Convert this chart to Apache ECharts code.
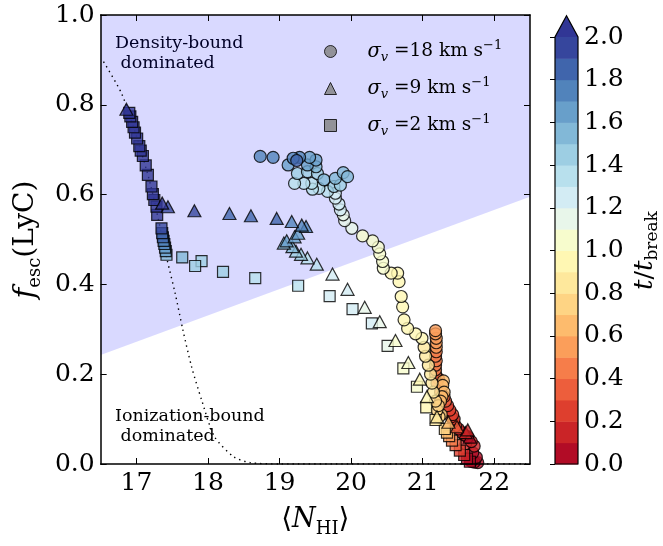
<!DOCTYPE html>
<html>
<head>
<meta charset="utf-8">
<script src="https://cdn.jsdelivr.net/npm/echarts@6/dist/echarts.min.js"></script>
<style>
  html, body { margin: 0; padding: 0; background: #fff; }
  #chart { width: 663px; height: 546px; }
</style>
</head>
<body>
<div id="chart"></div>
<script>
// sigma_v = 18 km/s (circles): <N_HI>, f_esc, t/t_break
const circN = [21.77, 21.72, 21.68, 21.75, 21.70, 21.72, 21.60, 21.68, 21.63, 21.58, 21.55, 21.50,
  21.46, 21.43, 21.44, 21.40, 21.42, 21.38, 21.35, 21.32, 21.30, 21.25, 21.22, 21.20, 21.18,
  21.18, 21.18, 21.19, 21.18, 21.19, 21.19, 21.19, 21.19, 21.18, 21.18,
  21.29, 21.28, 21.30, 21.27, 21.25, 21.26, 21.23, 21.20, 21.22, 21.18,
  21.15, 21.13, 21.11, 21.08, 21.04, 21.02, 20.99, 20.90, 20.79, 20.74, 20.72, 20.70, 20.67, 20.65, 20.56,
  20.45, 20.44, 20.40, 20.38, 20.30, 20.16, 20.01, 19.91, 19.89,
  19.85, 19.83, 19.78, 19.78, 19.67, 19.55, 19.46, 19.45, 19.34, 19.21,
  19.25, 19.39, 19.53, 19.76, 19.85, 19.62, 19.78, 19.89, 19.95, 19.51,
  19.12, 19.39, 19.51, 19.42, 19.28, 19.19, 18.91, 18.73, 19.24];
const circF = [0.003, 0.004, 0.006, 0.015, 0.025, 0.040, 0.045, 0.050, 0.060, 0.065, 0.070, 0.078,
  0.085, 0.095, 0.100, 0.105, 0.110, 0.120, 0.130, 0.140, 0.150, 0.160, 0.190, 0.180, 0.200,
  0.210, 0.220, 0.230, 0.240, 0.250, 0.260, 0.270, 0.280, 0.290, 0.297,
  0.185, 0.175, 0.160, 0.150, 0.140, 0.110, 0.105, 0.120, 0.130, 0.140,
  0.160, 0.180, 0.200, 0.220, 0.240, 0.260, 0.280, 0.290, 0.302, 0.321, 0.350, 0.373, 0.406, 0.425, 0.425,
  0.436, 0.451, 0.468, 0.483, 0.497, 0.508, 0.525, 0.542, 0.555,
  0.566, 0.579, 0.592, 0.603, 0.607, 0.614, 0.612, 0.625, 0.625, 0.625,
  0.647, 0.651, 0.647, 0.618, 0.621, 0.633, 0.636, 0.649, 0.640, 0.662,
  0.666, 0.666, 0.677, 0.683, 0.683, 0.681, 0.683, 0.685, 0.676];
const circT = [0.03, 0.05, 0.07, 0.08, 0.09, 0.11, 0.12, 0.13, 0.15, 0.17, 0.18, 0.19,
  0.21, 0.23, 0.24, 0.25, 0.27, 0.28, 0.29, 0.31, 0.33, 0.35, 0.37, 0.38, 0.39,
  0.42, 0.44, 0.46, 0.48, 0.49, 0.52, 0.54, 0.56, 0.58, 0.59,
  0.62, 0.64, 0.66, 0.68, 0.69, 0.72, 0.74, 0.76, 0.78, 0.79,
  0.81, 0.83, 0.85, 0.86, 0.88, 0.89, 0.91, 0.92, 0.93, 0.94, 0.95, 0.96, 0.97, 0.98, 0.99,
  1.02, 1.04, 1.06, 1.07, 1.08, 1.09, 1.12, 1.15, 1.18,
  1.22, 1.25, 1.27, 1.29, 1.31, 1.33, 1.35, 1.36, 1.38, 1.39,
  1.42, 1.44, 1.46, 1.48, 1.49, 1.52, 1.54, 1.56, 1.58, 1.59,
  1.62, 1.64, 1.66, 1.68, 1.72, 1.74, 1.76, 1.78, 1.85];

// sigma_v = 2 km/s (squares)
const sqN = [21.66, 21.62, 21.58, 21.52, 21.46, 21.41, 21.37, 21.34, 21.31, 21.18, 21.05,
  20.92, 20.73, 20.51, 20.29, 20.02, 19.70, 19.26, 18.66, 18.21, 17.91, 17.82,
  17.64, 17.42, 17.41, 17.40, 17.39, 17.38, 17.37, 17.36, 17.35,
  17.29, 17.28, 17.25, 17.23, 17.21, 17.16, 17.13, 17.09, 17.06, 17.04, 17.01,
  16.98, 16.96, 16.94, 16.915, 16.90];
const sqF = [0.005, 0.012, 0.020, 0.030, 0.042, 0.052, 0.062, 0.070, 0.078, 0.098, 0.126,
  0.172, 0.213, 0.263, 0.313, 0.345, 0.374, 0.397, 0.414, 0.428, 0.452, 0.441,
  0.460, 0.466, 0.474, 0.482, 0.490, 0.497, 0.505, 0.514, 0.525,
  0.555, 0.573, 0.588, 0.601, 0.618, 0.644, 0.665, 0.686, 0.698, 0.708, 0.725,
  0.738, 0.750, 0.762, 0.774, 0.782];
const sqT = [0.03, 0.08, 0.15, 0.25, 0.35, 0.45, 0.55, 0.65, 0.75, 0.85, 0.95,
  1.03, 1.08, 1.15, 1.22, 1.26, 1.29, 1.33, 1.37, 1.42, 1.46, 1.48,
  1.55, 1.58, 1.63, 1.67, 1.72, 1.77, 1.83, 1.88, 1.95,
  2.05, 2.10, 2.15, 2.20, 2.25, 2.30, 2.35, 2.40, 2.45, 2.50, 2.55,
  2.60, 2.65, 2.70, 2.75, 2.80];

// sigma_v = 9 km/s (triangles)
const triN = [21.66, 21.60, 21.63, 21.48, 21.36, 21.20, 21.06, 20.96, 20.80, 20.62, 20.40, 20.19,
  19.95, 19.74, 19.52, 19.39, 19.30, 19.23, 19.18, 19.06, 19.10, 19.21, 19.26,
  19.37, 19.31, 19.17, 18.96, 18.60, 18.30, 17.81, 17.44, 17.36, 16.86];
const triF = [0.060, 0.070, 0.076, 0.083, 0.093, 0.105, 0.150, 0.189, 0.226, 0.275, 0.317, 0.349,
  0.389, 0.423, 0.445, 0.459, 0.467, 0.474, 0.484, 0.492, 0.497, 0.506, 0.514,
  0.529, 0.532, 0.540, 0.547, 0.553, 0.558, 0.564, 0.573, 0.581, 0.790];
const triT = [0.05, 0.12, 0.18, 0.35, 0.60, 0.85, 0.95, 0.98, 1.03, 1.07, 1.13, 1.18,
  1.23, 1.27, 1.33, 1.37, 1.43, 1.47, 1.53, 1.57, 1.62, 1.65, 1.68,
  1.72, 1.75, 1.78, 1.82, 1.85, 1.88, 1.93, 1.97, 2.05, 2.30];

// dotted curve
const dotN = [16.54, 16.79, 17.0, 17.2, 17.43, 17.54, 17.65, 17.77, 17.91, 18.09, 18.36, 18.59, 19.0, 20.0, 21.0, 22.5];
const dotF = [0.896, 0.826, 0.73, 0.62, 0.454, 0.381, 0.298, 0.217, 0.143, 0.061, 0.016, 0.003, 0, 0, 0, 0];

// density-bound / ionization-bound divide
const shadeN = [16.5, 22.5];
const shadeF = [0.243, 0.595];

// ticks
const xTicks = [17, 18, 19, 20, 21, 22];
const cbBounds = [0, 0.1, 0.2, 0.3, 0.4, 0.5, 0.6, 0.7, 0.8, 0.9, 1.0, 1.1, 1.2, 1.3, 1.4, 1.5, 1.6, 1.7, 1.8, 1.9, 2.0];
const cbTip = 2.1;

// RdYlBu in 20 steps, plus the over colour
const BAND = ['#b20c26', '#ca2427', '#de3f2e', '#ed5e3c', '#f67d4a', '#fb9e5a', '#fdbb6d', '#fed484', '#fee89c', '#fff7b3',
  '#f7fccd', '#e8f6ea', '#d3ecf4', '#b8e0ed', '#9dcee3', '#82b8d7', '#689fca', '#5183bb', '#4065ac', '#36469d'];
const OVER = '#313695';
const FONT = 'DejaVu Serif';

function tColor(t) {
  return t >= 2 ? OVER : BAND[Math.min(19, Math.floor(t * 10 + 1e-9))];
}
function zip3(a, b, c) {
  return a.map((v, i) => [v, b[i], c[i]]);
}

const cbData = cbBounds.slice(0, -1).map((lo, i) => [lo, cbBounds[i + 1]]);
cbData.push([cbBounds[cbBounds.length - 1], cbTip]);

const markerStyle = {
  color: p => tColor(p.value[2]),
  borderColor: '#000',
  borderWidth: 1.2
};
const legendLabels = { s18: '18', s9: '9', s2: '2' };
const tickFont = { fontFamily: FONT, fontSize: 25, color: '#000' };

const chart = echarts.init(document.getElementById('chart'));

const option = {
  animation: false,
  grid: [
    { left: 92, right: 133, top: 15, bottom: 82 },
    { left: 555, width: 23, top: 37, bottom: 82 }
  ],
  legend: {
    orient: 'vertical',
    left: 319,
    top: 34,
    itemWidth: 12,
    itemHeight: 12,
    itemGap: 12,
    data: [
      { name: 's18', icon: 'circle', itemStyle: { color: '#808080', borderColor: '#000', borderWidth: 1 } },
      { name: 's9', icon: 'triangle', itemStyle: { color: '#808080', borderColor: '#000', borderWidth: 1 } },
      { name: 's2', icon: 'rect', itemStyle: { color: '#808080', borderColor: '#000', borderWidth: 1 } }
    ],
    formatter: name => `{g|}{i|σ}{sub|v} =${legendLabels[name]} km s{sup|−1}`,
    textStyle: {
      fontFamily: FONT, fontSize: 18.5, color: '#000', lineHeight: 25,
      rich: {
        g: { width: 26 },
        i: { fontFamily: FONT, fontSize: 19.5, fontStyle: 'italic' },
        sub: { fontFamily: FONT, fontSize: 13, fontStyle: 'italic', verticalAlign: 'bottom', lineHeight: 12 },
        sup: { fontFamily: FONT, fontSize: 13, verticalAlign: 'top', lineHeight: 12 }
      }
    }
  },
  graphic: [
    { type: 'text', left: 115, top: 33, style: { text: 'Density-bound\n dominated', font: `17.5px "${FONT}"`, lineHeight: 20, fill: '#000' } },
    { type: 'text', left: 115, top: 406, style: { text: 'Ionization-bound\n dominated', font: `17.5px "${FONT}"`, lineHeight: 20, fill: '#000' } }
  ],
  xAxis: [
    {
      type: 'value', gridIndex: 0, min: 16.5, max: 22.5, z: 10,
      axisLine: { onZero: false, lineStyle: { color: '#000', width: 1.5 } },
      axisTick: { inside: true, length: 6, customValues: xTicks, lineStyle: { color: '#000' } },
      axisLabel: { customValues: xTicks, margin: 7, ...tickFont },
      splitLine: { show: false },
      name: '{b|⟨}{i|N}{s|HI}{b|⟩}',
      nameLocation: 'middle',
      nameGap: 38,
      nameTextStyle: {
        fontFamily: FONT, fontSize: 27, color: '#000', lineHeight: 36,
        rich: {
          b: { fontFamily: FONT, fontSize: 28 },
          i: { fontFamily: FONT, fontSize: 27, fontStyle: 'italic' },
          s: { fontFamily: FONT, fontSize: 18, verticalAlign: 'bottom', lineHeight: 18 }
        }
      }
    },
    {
      type: 'value', gridIndex: 0, position: 'top', min: 16.5, max: 22.5, z: 10,
      axisLine: { onZero: false, lineStyle: { color: '#000', width: 1.5 } },
      axisTick: { inside: true, length: 6, customValues: xTicks, lineStyle: { color: '#000' } },
      axisLabel: { show: false },
      splitLine: { show: false }
    },
    { type: 'value', gridIndex: 1, min: 0, max: 1, show: false }
  ],
  yAxis: [
    {
      type: 'value', gridIndex: 0, min: 0, max: 1, interval: 0.2, z: 10,
      axisLine: { onZero: false, lineStyle: { color: '#000', width: 1.5 } },
      axisTick: { inside: true, length: 6, lineStyle: { color: '#000' } },
      axisLabel: { margin: 6, formatter: v => v.toFixed(1), ...tickFont },
      splitLine: { show: false },
      name: '{i|f}{s|esc}(LyC)',
      nameLocation: 'middle',
      nameRotate: 90,
      nameGap: 54,
      nameTextStyle: {
        fontFamily: FONT, fontSize: 28, color: '#000', lineHeight: 36,
        rich: {
          i: { fontFamily: FONT, fontSize: 29, fontStyle: 'italic' },
          s: { fontFamily: FONT, fontSize: 18, verticalAlign: 'bottom', lineHeight: 18 }
        }
      }
    },
    {
      type: 'value', gridIndex: 0, position: 'right', min: 0, max: 1, interval: 0.2, z: 10,
      axisLine: { onZero: false, lineStyle: { color: '#000', width: 1.5 } },
      axisTick: { inside: true, length: 6, lineStyle: { color: '#000' } },
      axisLabel: { show: false },
      splitLine: { show: false }
    },
    {
      type: 'value', gridIndex: 1, position: 'right', min: 0, max: 2, interval: 0.2, z: 10,
      axisLine: { show: false },
      axisTick: { inside: true, length: 5, lineStyle: { color: '#000' } },
      axisLabel: { margin: 6, formatter: v => v.toFixed(1), ...tickFont },
      splitLine: { show: false },
      name: '{i|t}/{i|t}{s|break}',
      nameLocation: 'middle',
      nameRotate: 90,
      nameGap: 51,
      nameTextStyle: {
        fontFamily: FONT, fontSize: 25, color: '#000', lineHeight: 32,
        rich: {
          i: { fontFamily: FONT, fontSize: 26, fontStyle: 'italic' },
          s: { fontFamily: FONT, fontSize: 17, verticalAlign: 'bottom', lineHeight: 16 }
        }
      }
    }
  ],
  series: [
    {
      name: 'shade', type: 'line', xAxisIndex: 0, yAxisIndex: 0, silent: true, z: 0,
      data: shadeN.map((n, i) => [n, shadeF[i]]),
      symbol: 'none',
      lineStyle: { width: 0 },
      areaStyle: { origin: 'end', color: 'rgba(0,0,255,0.15)', opacity: 1 }
    },
    {
      name: 'dotted', type: 'line', xAxisIndex: 0, yAxisIndex: 0, silent: true, z: 1,
      data: dotN.map((n, i) => [n, dotF[i]]),
      symbol: 'none', smooth: 0.25,
      lineStyle: { color: '#000', width: 1.4, type: [1.4, 4] }
    },
    {
      name: 's18', type: 'scatter', xAxisIndex: 0, yAxisIndex: 0, symbol: 'circle', symbolSize: 12,
      data: zip3(circN, circF, circT), itemStyle: markerStyle
    },
    {
      name: 's2', type: 'scatter', xAxisIndex: 0, yAxisIndex: 0, symbol: 'rect', symbolSize: 11,
      data: zip3(sqN, sqF, sqT), itemStyle: markerStyle
    },
    {
      name: 's9', type: 'scatter', xAxisIndex: 0, yAxisIndex: 0, symbol: 'triangle', symbolSize: [13, 12],
      data: zip3(triN, triF, triT), itemStyle: markerStyle
    },
    {
      name: 'colorbar', type: 'custom', xAxisIndex: 2, yAxisIndex: 2, silent: true,
      data: cbData,
      renderItem: (params, api) => {
        const lo = api.value(0), hi = api.value(1);
        const a = api.coord([0, lo]), b = api.coord([1, hi]);
        if (lo >= 2) {
          const tip = api.coord([0.5, hi]);
          return {
            type: 'group',
            children: [
              { type: 'polygon', shape: { points: [[a[0], a[1]], [b[0], a[1]], tip] }, style: { fill: OVER } },
              {
                type: 'polyline',
                shape: { points: [api.coord([0, 0]), api.coord([0, lo]), tip, api.coord([1, lo]), api.coord([1, 0]), api.coord([0, 0])] },
                style: { fill: null, stroke: '#000', lineWidth: 1.2 }
              }
            ]
          };
        }
        return {
          type: 'rect',
          shape: { x: a[0], y: b[1], width: b[0] - a[0], height: a[1] - b[1] + 0.5 },
          style: { fill: tColor((lo + hi) / 2) }
        };
      }
    }
  ]
};

chart.setOption(option);
</script>
</body>
</html>
